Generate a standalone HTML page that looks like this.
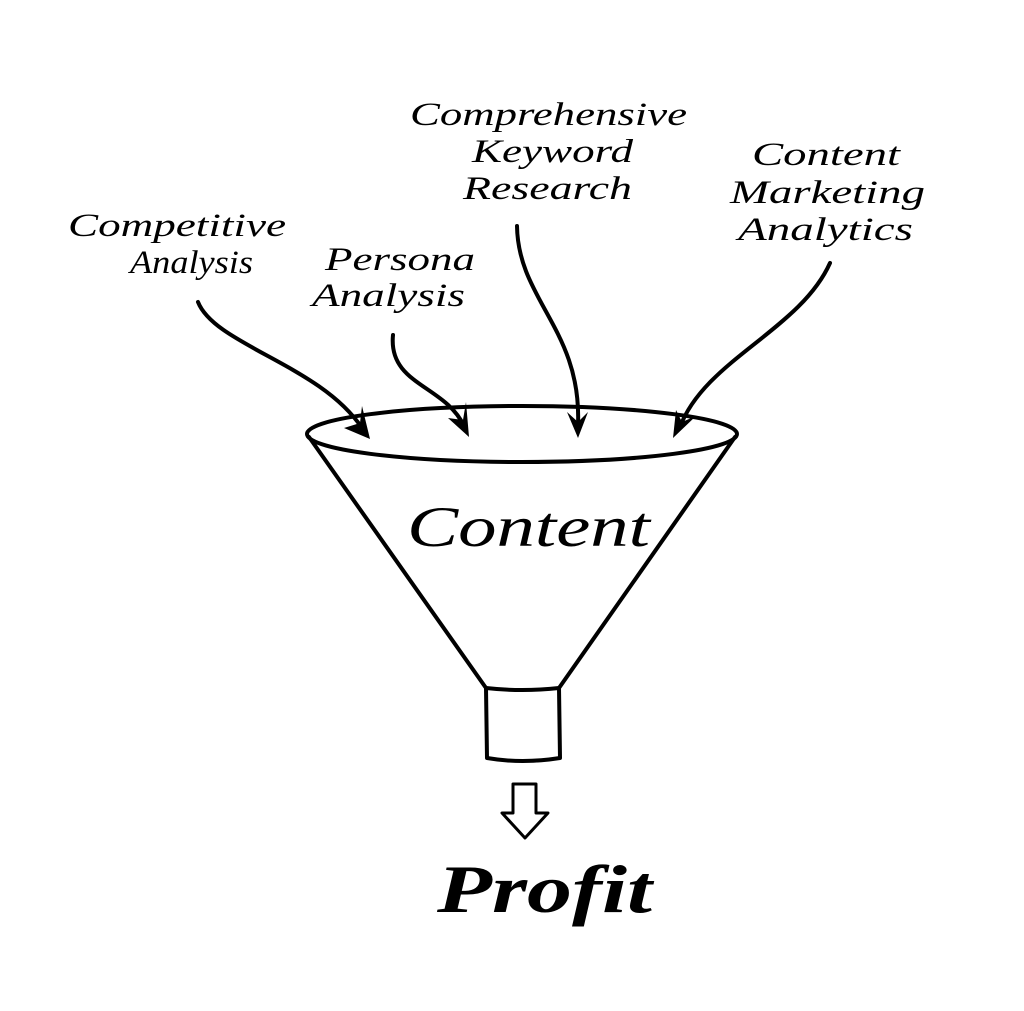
<!DOCTYPE html>
<html><head><style>
body{margin:0;background:#fff;}
svg{display:block}
text{font-family:"Liberation Serif",serif;font-style:italic;fill:#000;}
</style></head><body>
<svg width="1024" height="1011" viewBox="0 0 1024 1011">
<g fill="none" stroke="#000" stroke-width="4" stroke-linecap="round" stroke-linejoin="round">
<ellipse cx="522" cy="434" rx="215" ry="28"/>
<path d="M309,437 L486,688 M735,437 L559,688"/>
<path d="M486,688 Q522,692 559,688 L560,758 Q522,764 487,758 Z"/>
<path d="M513,784 L536,784 L536,813 L548,813 L525,838 L502,813 L513,813 Z" stroke-width="3"/>
<path d="M198,302 C215,345 320,365 362,428"/>
<path d="M393,335 C388,385 445,385 464,426"/>
<path d="M517,226 C518,300 582,330 578,425"/>
<path d="M830,263 C800,330 705,360 680,427"/>
</g>
<g fill="#000">
<path d="M370,439 L344,428 L360,423 L362,406 Z"/>
<path d="M469,437 L448,418 L463,420 L466,402 Z"/>
<path d="M578,438 L567,412 L578,422 L588,412 Z"/>
<path d="M673,438 L676,410 L682,422 L696,416 Z"/>
</g>
<g font-size="33">
<text x="68" y="236" textLength="218" lengthAdjust="spacingAndGlyphs">Competitive</text>
<text x="130" y="273" textLength="123" lengthAdjust="spacingAndGlyphs">Analysis</text>
<text x="325" y="270" textLength="150" lengthAdjust="spacingAndGlyphs">Persona</text>
<text x="312" y="306" textLength="153" lengthAdjust="spacingAndGlyphs">Analysis</text>
<text x="410" y="125" textLength="277" lengthAdjust="spacingAndGlyphs">Comprehensive</text>
<text x="472" y="162" textLength="161" lengthAdjust="spacingAndGlyphs">Keyword</text>
<text x="463" y="199" textLength="169" lengthAdjust="spacingAndGlyphs">Research</text>
<text x="752" y="165" textLength="148" lengthAdjust="spacingAndGlyphs">Content</text>
<text x="730" y="203" textLength="195" lengthAdjust="spacingAndGlyphs">Marketing</text>
<text x="738" y="240" textLength="175" lengthAdjust="spacingAndGlyphs">Analytics</text>
</g>
<text x="407" y="546" font-size="57" textLength="243" lengthAdjust="spacingAndGlyphs">Content</text>
<text x="437" y="912" font-size="68" font-weight="bold" textLength="215" lengthAdjust="spacingAndGlyphs">Profit</text>
</svg>
</body></html>
